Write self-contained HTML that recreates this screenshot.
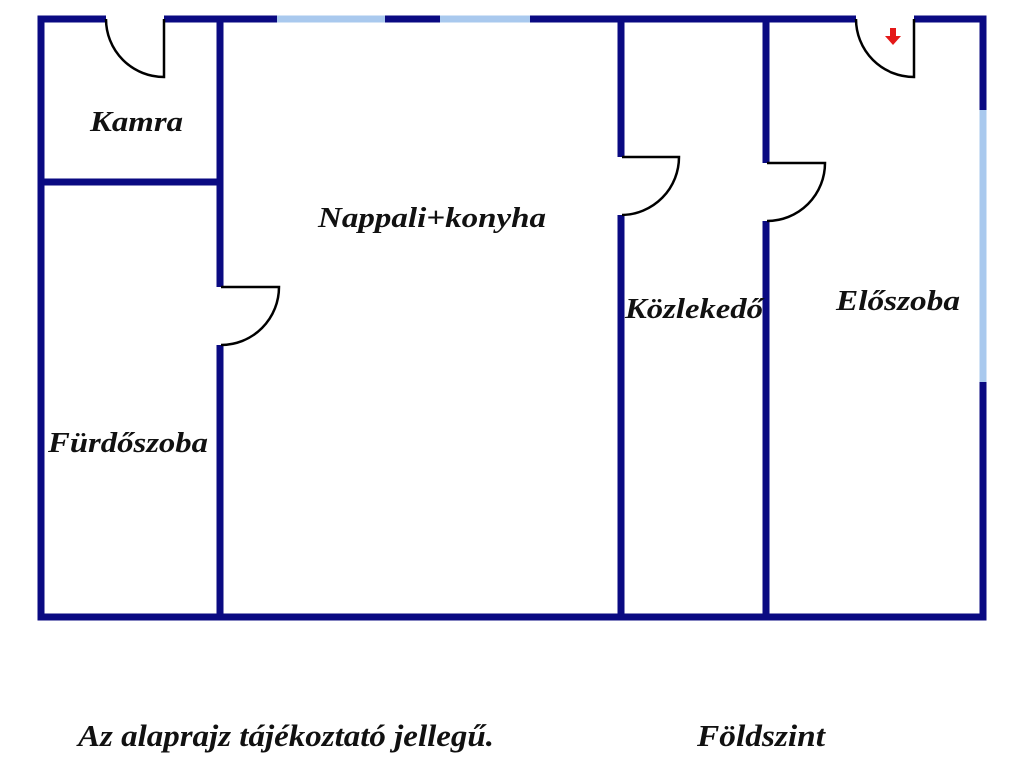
<!DOCTYPE html>
<html><head><meta charset="utf-8"><style>html,body{margin:0;padding:0;background:#fff}svg{display:block}</style></head>
<body>
<svg width="1024" height="768" viewBox="0 0 1024 768" xmlns="http://www.w3.org/2000/svg">
<g stroke="#0a0a82" stroke-width="7" fill="none" stroke-linecap="butt">
<!-- top wall -->
<line x1="37.5" y1="19" x2="106" y2="19"/>
<line x1="164" y1="19" x2="277" y2="19"/>
<line x1="385" y1="19" x2="440" y2="19"/>
<line x1="530" y1="19" x2="856" y2="19"/>
<line x1="914" y1="19" x2="986.5" y2="19"/>
<!-- left, bottom -->
<line x1="41" y1="19" x2="41" y2="620.5"/>
<line x1="37.5" y1="617" x2="986.5" y2="617"/>
<!-- right -->
<line x1="983" y1="19" x2="983" y2="110"/>
<line x1="983" y1="382" x2="983" y2="620.5"/>
<!-- kamra wall -->
<line x1="41" y1="182" x2="220" y2="182"/>
<!-- x=220 -->
<line x1="220" y1="19" x2="220" y2="287"/>
<line x1="220" y1="345" x2="220" y2="617"/>
<!-- x=621 -->
<line x1="621" y1="19" x2="621" y2="157"/>
<line x1="621" y1="215" x2="621" y2="617"/>
<!-- x=766 -->
<line x1="766" y1="19" x2="766" y2="163"/>
<line x1="766" y1="221" x2="766" y2="617"/>
</g>
<g stroke="#a9c9ee" stroke-width="7" stroke-linecap="butt">
<line x1="277" y1="19" x2="385" y2="19"/>
<line x1="440" y1="19" x2="530" y2="19"/>
<line x1="983" y1="110" x2="983" y2="382"/>
</g>
<g stroke="#000" stroke-width="2.5" fill="none">
<path d="M164 19 L164 77 A58 58 0 0 1 106 19"/>
<path d="M914 19 L914 77 A58 58 0 0 1 856 19"/>
<path d="M221 287 L279 287 A58 58 0 0 1 221 345"/>
<path d="M622 157 L679 157 A58 58 0 0 1 622 215"/>
<path d="M767 163 L825 163 A58 58 0 0 1 767 221"/>
</g>
<path d="M890 28 h6 v8 h5 l-8 9 l-8 -9 h5 z" fill="#e41818"/>
<g font-family="Liberation Serif, serif" font-weight="bold" font-style="italic" font-size="28" fill="#111">
<text x="90" y="131" textLength="93" lengthAdjust="spacingAndGlyphs">Kamra</text>
<text x="318" y="227" textLength="228" lengthAdjust="spacingAndGlyphs">Nappali+konyha</text>
<text x="625" y="318" textLength="138" lengthAdjust="spacingAndGlyphs">Közlekedő</text>
<text x="836" y="310" textLength="124" lengthAdjust="spacingAndGlyphs">Előszoba</text>
<text x="48" y="452" textLength="160" lengthAdjust="spacingAndGlyphs">Fürdőszoba</text>
<text x="78" y="746" font-size="31" textLength="416" lengthAdjust="spacingAndGlyphs">Az alaprajz tájékoztató jellegű.</text>
<text x="697" y="746" font-size="31" textLength="128" lengthAdjust="spacingAndGlyphs">Földszint</text>
</g>
</svg>
</body></html>
